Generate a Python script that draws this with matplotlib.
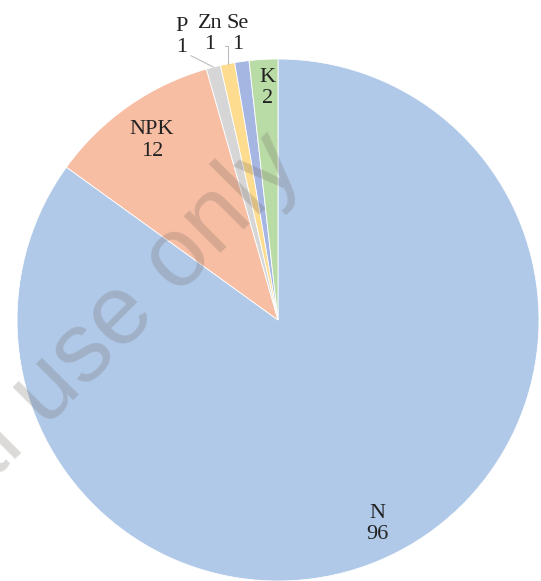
import matplotlib.pyplot as plt
import numpy as np

labels = ['N', 'NPK', 'P', 'Zn', 'Se', 'K']
values = [96, 12, 1, 1, 1, 2]
colors = ['#B0C9E8', '#F7BEA4', '#D6D6D6', '#FDDC90', '#A6B6E2', '#B9DCA6']

plt.rcParams['font.family'] = ['Liberation Serif', 'DejaVu Serif']

W, H = 541, 581
fig = plt.figure(figsize=(W / 100, H / 100), dpi=100)
ax = fig.add_axes([0, 0, 1, 1])

cx, cy, r = 278, H - 320, 261
wedges, _ = ax.pie(values, colors=colors, startangle=90, counterclock=False,
                   center=(cx, cy), radius=r, frame=True,
                   wedgeprops=dict(edgecolor='white', linewidth=0.6))
ax.set_xlim(0, W)
ax.set_ylim(0, H)
ax.set_aspect('equal')
ax.axis('off')

fs = 16
ls = 1.2
# labels inside the larger slices: (radius fraction, angle tweak)
inside = {'N': (0.87, -1.0), 'NPK': (0.84, 0.0), 'K': (0.89, -0.7)}
for w, lab, v in zip(wedges, labels, values):
    if lab in inside:
        frac, dang = inside[lab]
        mid = np.deg2rad((w.theta1 + w.theta2) / 2 + dang)
        d = frac * r
        ax.text(cx + d * np.cos(mid), cy + d * np.sin(mid), f'{lab}\n{v}',
                ha='center', va='center', fontsize=fs, linespacing=ls, color='#222222')

# small slices, labels above the pie
outside = {'P': (182, H - 37), 'Zn': (210, H - 34), 'Se': (238, H - 34)}
leader = {
    'P': dict(arrowstyle='-', color='#BDBDBD', lw=0.8, shrinkA=0, shrinkB=0,
              relpos=(0.85, 0.1)),
    'Zn': dict(arrowstyle='-', color='#BDBDBD', lw=0.8, shrinkA=0, shrinkB=0,
               relpos=(0.8, 0.2),
               connectionstyle='angle,angleA=0,angleB=90,rad=0'),
}
for w, lab, v in zip(wedges, labels, values):
    if lab in outside:
        mid = np.deg2rad((w.theta1 + w.theta2) / 2)
        px, py = cx + r * np.cos(mid), cy + r * np.sin(mid)
        tx, ty = outside[lab]
        ax.annotate(f'{lab}\n{v}', xy=(px, py), xytext=(tx, ty),
                    ha='center', va='center', fontsize=fs, linespacing=ls,
                    color='#222222', arrowprops=leader.get(lab))

# faint watermark
ax.text(-28, H - 502, 'al use only', rotation=45, rotation_mode='anchor',
        ha='left', va='baseline', fontsize=71, family='Liberation Sans',
        color='#6e625a', alpha=0.24)

fig.savefig('out.png', dpi=100, facecolor='white')
